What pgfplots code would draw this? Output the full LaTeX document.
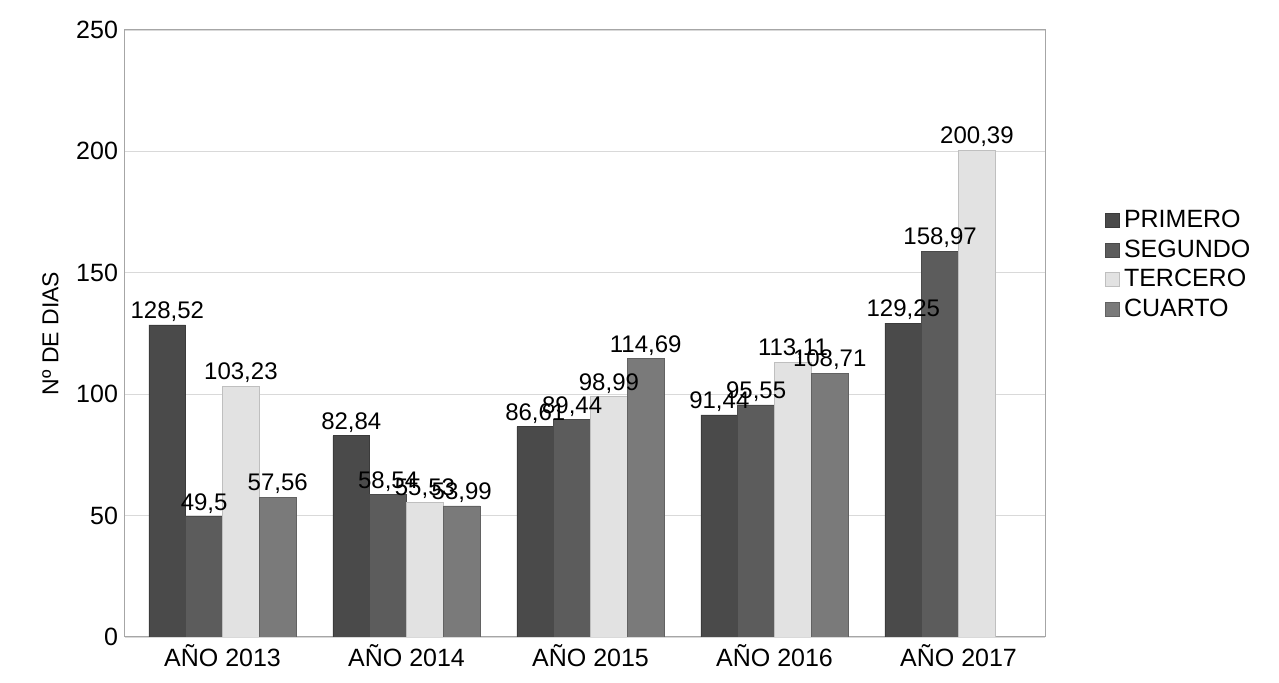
\documentclass[border=0pt]{standalone}
\usepackage{pgfplots}
\pgfplotsset{compat=1.18}
\usepackage{fontspec}
\setmainfont{Liberation Sans}
\definecolor{cPri}{HTML}{4A4A4A}
\definecolor{cSeg}{HTML}{5C5C5C}
\definecolor{cTer}{HTML}{E2E2E2}
\definecolor{cCua}{HTML}{7A7A7A}
\begin{document}
\begin{tikzpicture}
\path[use as bounding box] (-62.5pt,-23pt) rectangle (577pt,318.5pt);
\begin{axis}[
  scale only axis,
  width=460pt, height=303.5pt,
  ybar=0pt, bar width=0.2,
  xmin=-0.53, xmax=4.47,
  ymin=0, ymax=250,
  xtick={0,1,2,3,4},
  xticklabels={AÑO 2013,AÑO 2014,AÑO 2015,AÑO 2016,AÑO 2017},
  ytick={0,50,100,150,200,250},
  major tick length=0pt,
  ymajorgrids, grid style={gray!30, line width=0.4pt},
  axis line style={gray!70, line width=0.5pt},
  tick label style={font=\fontsize{12.5}{14}\selectfont},
  /pgf/number format/assume math mode=true,
  ylabel={Nº DE DIAS},
  ylabel style={font=\fontsize{11.5}{13}\selectfont, yshift=2pt},
  nodes near coords={\pgfmathprintnumber[use comma,precision=2]{\pgfplotspointmeta}},
  nodes near coords style={font=\fontsize{12}{14}\selectfont, inner sep=1.5pt},
  legend style={at={(1.065,0.71)}, anchor=north west, draw=none, fill=none,
    font=\fontsize{12.5}{14}\selectfont, row sep=0.5pt, inner sep=0pt},
  legend cell align=left,
  legend image code/.code={\fill[#1] (0pt,-3.5pt) rectangle (7pt,3.5pt);},
]
\addplot[fill=cPri, draw=cPri!80!black] coordinates {(0,128.52) (1,82.84) (2,86.61) (3,91.44) (4,129.25)};
\addplot[fill=cSeg, draw=cSeg!80!black] coordinates {(0,49.5) (1,58.54) (2,89.44) (3,95.55) (4,158.97)};
\addplot[fill=cTer, draw=gray!50] coordinates {(0,103.23) (1,55.53) (2,98.99) (3,113.11) (4,200.39)};
\addplot[fill=cCua, draw=cCua!80!black] coordinates {(0,57.56) (1,53.99) (2,114.69) (3,108.71)};
\legend{PRIMERO,SEGUNDO,TERCERO,CUARTO}
\end{axis}
\end{tikzpicture}
\end{document}
